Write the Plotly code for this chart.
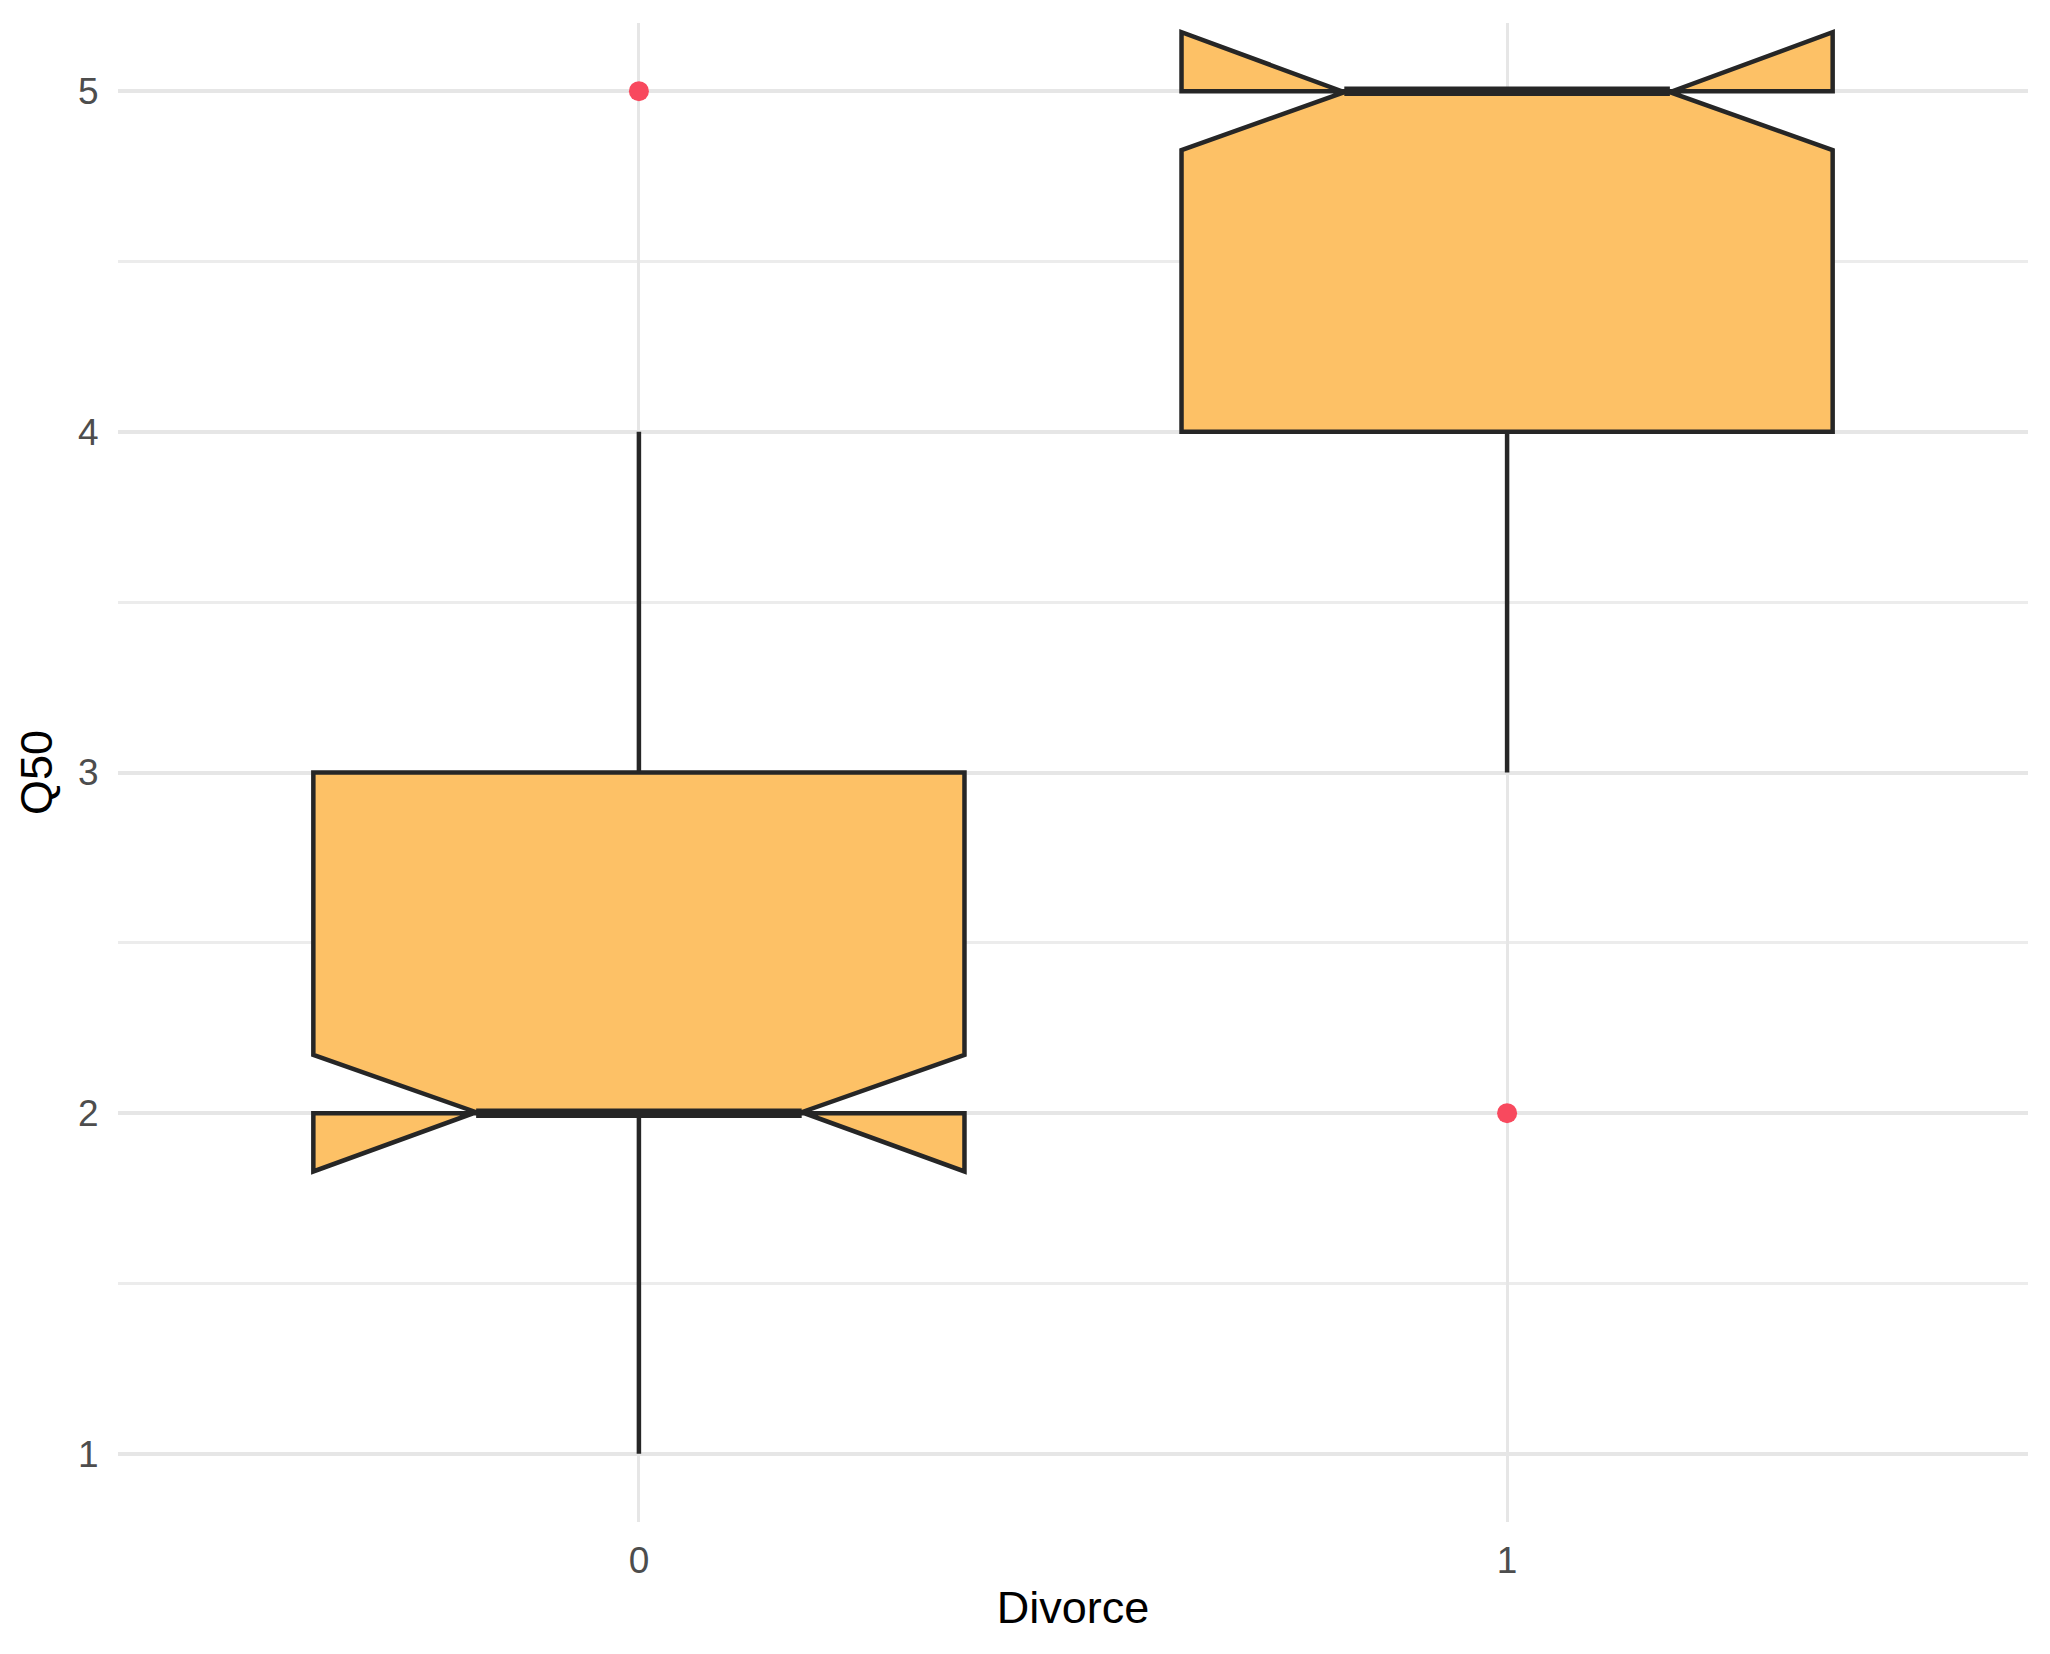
import plotly.graph_objects as go

# Data
groups = [0, 1]
group_labels = ["0", "1"]
q1 = [2, 4]
median = [2, 5]
q3 = [3, 5]
lower_fence = [1, 3]
upper_fence = [4, 5]
notch_span = [0.171, 0.173]
outlier_x = [0, 1]
outlier_y = [5, 2]

FILL = "#FDC166"
EDGE = "#262626"
POINT = "#F8495E"
GRID = "#E6E6E6"
BOX_W = 0.75
FONT = "Liberation Sans, Arial, sans-serif"

fig = go.Figure()

for i, g in enumerate(groups):
    fig.add_trace(go.Box(
        x=[g], q1=[q1[i]], median=[median[i]], q3=[q3[i]],
        lowerfence=[lower_fence[i]], upperfence=[upper_fence[i]],
        notchspan=[notch_span[i]], notched=True, notchwidth=0.25,
        width=BOX_W, whiskerwidth=0,
        fillcolor=FILL, line=dict(color=EDGE, width=4.5),
        hoverinfo="skip",
    ))
    # thick median segment (ggplot fatten)
    fig.add_trace(go.Scatter(
        x=[g - BOX_W / 4, g + BOX_W / 4], y=[median[i], median[i]],
        mode="lines", line=dict(color=EDGE, width=9.5), hoverinfo="skip",
    ))

fig.add_trace(go.Scatter(
    x=outlier_x, y=outlier_y, mode="markers",
    marker=dict(color=POINT, size=20, line=dict(width=0)),
    hoverinfo="skip",
))

fig.update_layout(
    width=2050, height=1654,
    margin=dict(l=118, r=22, t=23, b=132),
    paper_bgcolor="white", plot_bgcolor="white",
    showlegend=False,
    font=dict(family=FONT),
)

fig.update_xaxes(
    range=[-0.6, 1.6], tickvals=groups, ticktext=group_labels,
    showgrid=True, gridcolor=GRID, gridwidth=3, zeroline=False,
    showline=False, ticks="outside", ticklen=6, tickcolor="rgba(0,0,0,0)",
    tickfont=dict(size=37, color="#4D4D4D", family=FONT),
    title=dict(text="Divorce", font=dict(size=45, color="black", family=FONT), standoff=11),
    automargin=False,
)
fig.update_yaxes(
    range=[0.8, 5.2], tickvals=[1, 2, 3, 4, 5],
    showgrid=True, gridcolor=GRID, gridwidth=3.5, zeroline=False,
    showline=False, ticks="outside", ticklen=11, tickcolor="rgba(0,0,0,0)",
    tickfont=dict(size=37, color="#4D4D4D", family=FONT),
    minor=dict(dtick=0.5, tick0=0, showgrid=True, gridcolor="#ECECEC", gridwidth=2.5),
    title=dict(text="Q50", font=dict(size=45, color="black", family=FONT), standoff=11),
    automargin=False,
)

fig.write_html("out.html")
